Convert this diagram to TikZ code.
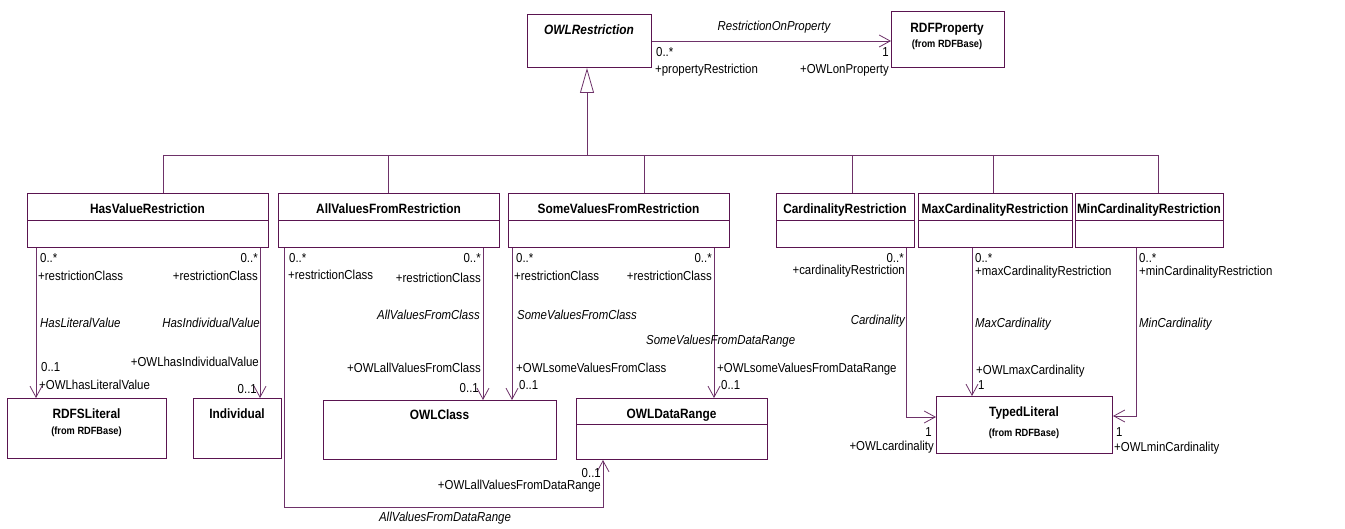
\documentclass[tikz,border=0pt]{standalone}
\usepackage{fontspec}
\setmainfont{Liberation Sans}
\newfontfamily\umlfont{Liberation Sans}[FakeStretch=0.88]
\usetikzlibrary{arrows.meta}
\definecolor{umlbox}{RGB}{90,20,80}
\definecolor{umlline}{RGB}{110,50,105}

\begin{document}
\begin{tikzpicture}
  [x=1pt,y=-1pt,>={Straight Barb[length=11pt,width=12pt]},
   cls/.style={draw=umlbox,line width=1pt,rectangle,inner sep=0pt,anchor=north west},
   ttl/.style={anchor=base,inner sep=0pt,font=\umlfont\fontsize{13.5}{15}\selectfont\bfseries},
   src/.style={anchor=base,inner sep=0pt,font=\umlfont\fontsize{10.5}{12}\selectfont\bfseries},
   role/.style={inner sep=0pt,font=\umlfont\fontsize{13}{15}\selectfont},
   assocname/.style={inner sep=0pt,font=\umlfont\fontsize{13}{15}\selectfont\itshape},
   rel/.style={draw=umlline,line width=0.8pt},]

\useasboundingbox (0,0) rectangle (1345,529);

% classes
\node[cls,minimum width=124pt,minimum height=53pt] (owlr) at (527,14) {};
\node[cls,minimum width=113pt,minimum height=56pt] (rdfp) at (891,11) {};
\node[cls,minimum width=241pt,minimum height=54pt] (hvr) at (27,193) {};
\node[cls,minimum width=221pt,minimum height=54pt] (avfr) at (278,193) {};
\node[cls,minimum width=221pt,minimum height=54pt] (svfr) at (508,193) {};
\node[cls,minimum width=138pt,minimum height=54pt] (cr) at (776,193) {};
\node[cls,minimum width=154pt,minimum height=54pt] (maxcr) at (918,193) {};
\node[cls,minimum width=148pt,minimum height=54pt] (mincr) at (1075,193) {};
\node[cls,minimum width=159pt,minimum height=60pt] (lit) at (7,398) {};
\node[cls,minimum width=88pt,minimum height=60pt] (ind) at (193,398) {};
\node[cls,minimum width=233pt,minimum height=59pt] (owlc) at (323,400) {};
\node[cls,minimum width=191pt,minimum height=61pt] (dr) at (576,398) {};
\node[cls,minimum width=176pt,minimum height=57pt] (tl) at (936,396) {};

\foreach \c in {hvr,avfr,svfr,cr,maxcr,mincr}
  \draw[draw=umlbox,line width=1pt] ([yshift=-28pt]\c.north west) -- ([yshift=-28pt]\c.north east);
\draw[draw=umlbox,line width=1pt] ([yshift=-27pt]dr.north west) -- ([yshift=-27pt]dr.north east);

\node[ttl,font=\umlfont\fontsize{13.5}{15}\selectfont\bfseries\itshape] (owlrT) at (589,35) {OWLRestriction};
\node[ttl] (rdfpT) at (947,33) {RDFProperty};
\node[src] (rdfpS) at (947,48) {(from RDFBase)};
\node[ttl] (hvrT) at (147.5,214) {HasValueRestriction};
\node[ttl] (avfrT) at (388.5,214) {AllValuesFromRestriction};
\node[ttl] (svfrT) at (618.5,214) {SomeValuesFromRestriction};
\node[ttl] (crT) at (845,214) {CardinalityRestriction};
\node[ttl] (maxcrT) at (995,214) {MaxCardinalityRestriction};
\node[ttl] (mincrT) at (1149,214) {MinCardinalityRestriction};
\node[ttl] (litT) at (86.5,418) {RDFSLiteral};
\node[src] (litS) at (86.5,435) {(from RDFBase)};
\node[ttl] (indT) at (237,418) {Individual};
\node[ttl] (owlcT) at (439.5,420) {OWLClass};
\node[ttl] (drT) at (671.5,418) {OWLDataRange};
\node[ttl] (tlT) at (1024,417) {TypedLiteral};
\node[src] (tlS) at (1024,436) {(from RDFBase)};

% generalization
\draw[rel,-{Triangle[open,length=25pt,width=14pt]}] (587,155) -- (587,0 |- owlr.south);
\draw[rel] (163,155) -- (1158,155);
\foreach \x/\c in {163/hvr,388/avfr,644/svfr,852/cr,993/maxcr,1158/mincr}
  \draw[rel] (\x,155) -- (\x,0 |- \c.north);

% associations
\draw[rel,->] (owlr.east |- 0,41) -- (rdfp.west |- 0,41);
\draw[rel,->] (36,0 |- hvr.south) -- (36,0 |- lit.north);
\draw[rel,->] (260,0 |- hvr.south) -- (260,0 |- ind.north);
\draw[rel,->] (284,0 |- avfr.south) -- (284,507) -- (603,507) -- (603,0 |- dr.south);
\draw[rel,->] (483,0 |- avfr.south) -- (483,0 |- owlc.north);
\draw[rel,->] (512,0 |- svfr.south) -- (512,0 |- owlc.north);
\draw[rel,->] (714,0 |- svfr.south) -- (714,0 |- dr.north);
\draw[rel,->] (906,0 |- cr.south) -- (906,417) -- (tl.west |- 0,417);
\draw[rel,->] (972,0 |- maxcr.south) -- (972,0 |- tl.north);
\draw[rel,->] (1136,0 |- mincr.south) -- (1136,416) -- (tl.east |- 0,416);

% roles and multiplicities
\foreach \x/\y/\t [count=\i] in {656/57/0..*,655/74/+propertyRestriction,
    40/263/0..*,38/281/+restrictionClass,41/372/0..1,39/390/+OWLhasLiteralValue,
    289/263/0..*,288/280/+restrictionClass,
    516/263/0..*,514/281/+restrictionClass,516/373/+OWLsomeValuesFromClass,519/390/0..1,
    717/373/+OWLsomeValuesFromDataRange,721/390/0..1,
    975/263/0..*,975/276/+maxCardinalityRestriction,976/375/+OWLmaxCardinality,978/390/1,
    1139/263/0..*,1139/276/+minCardinalityRestriction,1116/436/1,1114/451/+OWLminCardinality}
  \node[role,anchor=base west] (rw\i) at (\x,\y) {\t};
\foreach \x/\y/\t [count=\i] in {889/57/1,889/74/+OWLonProperty,
    258/263/0..*,258/281/+restrictionClass,259/367/+OWLhasIndividualValue,257/394/0..1,
    601/477/0..1,601/489/+OWLallValuesFromDataRange,
    481/263/0..*,481/283/+restrictionClass,481/373/+OWLallValuesFromClass,479/392/0..1,
    712/263/0..*,712/281/+restrictionClass,
    904/263/0..*,905/275/+cardinalityRestriction,932/436/1,934/450/+OWLcardinality}
  \node[role,anchor=base east] (re\i) at (\x,\y) {\t};

% association names
\foreach \x/\y/\t [count=\i] in {40/328/HasLiteralValue,517/320/SomeValuesFromClass,
    646/345/SomeValuesFromDataRange,975/328/MaxCardinality,1139/328/MinCardinality}
  \node[assocname,anchor=base west] (aw\i) at (\x,\y) {\t};
\foreach \x/\y/\t [count=\i] in {260/328/HasIndividualValue,480/320/AllValuesFromClass,
    905/325/Cardinality}
  \node[assocname,anchor=base east] (ae\i) at (\x,\y) {\t};
\node[assocname,anchor=base] (rop) at (774,31) {RestrictionOnProperty};
\node[assocname,anchor=base] (avdr) at (445,521) {AllValuesFromDataRange};

\end{tikzpicture}
\end{document}
